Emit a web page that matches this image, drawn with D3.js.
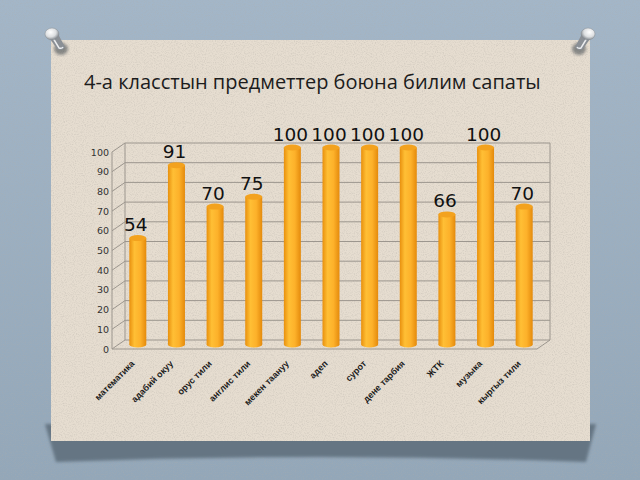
<!DOCTYPE html>
<html>
<head>
<meta charset="utf-8">
<script src="https://cdn.jsdelivr.net/npm/d3@7"></script>
<style>
  html, body { margin: 0; padding: 0; background: #9db1c3; }
  svg { display: block; }
</style>
</head>
<body>
<svg id="chart" width="640" height="480"></svg>
<script>
const subjects = [
  "математика", "адабий окуу", "орус тили", "англис тили", "мекен таануу",
  "адеп", "сурот", "дене тарбия", "ЖТК", "музыка", "кыргыз тили"
];
const quality = [54, 91, 70, 75, 100, 100, 100, 100, 66, 100, 70];
const yTicks = [0, 10, 20, 30, 40, 50, 60, 70, 80, 90, 100];
const title = "4-а класстын предметтер боюна билим сапаты";

const svg = d3.select("#chart");
const defs = svg.append("defs");

// background + paper
const bg = defs.append("linearGradient").attr("id", "bg").attr("x1", 0).attr("y1", 0).attr("x2", 0).attr("y2", 1);
bg.append("stop").attr("offset", "0%").attr("stop-color", "#a3b6c8");
bg.append("stop").attr("offset", "100%").attr("stop-color", "#93a7b9");

const noise = defs.append("filter").attr("id", "noise").attr("x", 0).attr("y", 0).attr("width", "100%").attr("height", "100%");
noise.append("feTurbulence").attr("type", "fractalNoise").attr("baseFrequency", 0.9).attr("numOctaves", 2).attr("seed", 3).attr("result", "t");
noise.append("feColorMatrix").attr("type", "matrix")
  .attr("values", "0 0 0 0 0.45  0 0 0 0 0.42  0 0 0 0 0.38  0 0 0 -2.2 1.25");

const blur = defs.append("filter").attr("id", "blur");
blur.append("feGaussianBlur").attr("stdDeviation", 1.5);

svg.append("rect").attr("width", 640).attr("height", 480).attr("fill", "url(#bg)");
svg.append("rect").attr("width", 640).attr("height", 480).attr("filter", "url(#noise)").attr("opacity", 0.25);

svg.append("path")
  .attr("d", "M45,424 L596,424 L586,462 Q320,452 56,462 Z")
  .attr("fill", "#5d6d7a")
  .attr("opacity", 0.85)
  .attr("filter", "url(#blur)");

const paper = { x: 51, y: 40, w: 539, h: 401 };
svg.append("rect")
  .attr("x", paper.x).attr("y", paper.y).attr("width", paper.w).attr("height", paper.h)
  .attr("fill", "#e6ddd0");
svg.append("rect")
  .attr("x", paper.x).attr("y", paper.y).attr("width", paper.w).attr("height", paper.h)
  .attr("filter", "url(#noise)").attr("opacity", 0.35);

// pins
const pinGrad = defs.append("radialGradient").attr("id", "pin").attr("cx", "40%").attr("cy", "35%").attr("r", "65%");
pinGrad.append("stop").attr("offset", "0%").attr("stop-color", "#ffffff");
pinGrad.append("stop").attr("offset", "60%").attr("stop-color", "#dcdee0");
pinGrad.append("stop").attr("offset", "100%").attr("stop-color", "#80868c");

[{ x: 52, dir: 1 }, { x: 588, dir: -1 }].forEach((p) => {
  const pg = svg.append("g").attr("transform", `translate(${p.x},34) scale(${p.dir},1)`);
  pg.append("ellipse").attr("cx", 9).attr("cy", 15).attr("rx", 7).attr("ry", 6)
    .attr("fill", "#2a343d").attr("opacity", 0.5).attr("filter", "url(#blur)");
  pg.append("path").attr("d", "M-4,2 L5,15 Q10,18 13,13 L5,-2 Z").attr("fill", "#8a8f95");
  pg.append("path").attr("d", "M1,4 L7,14 Q10,15 11,13").attr("fill", "none").attr("stroke", "#eceef0").attr("stroke-width", 1.5);
  pg.append("ellipse").attr("cx", 0).attr("cy", 0).attr("rx", 7).attr("ry", 6)
    .attr("fill", "url(#pin)").attr("stroke", "#8a9096").attr("stroke-width", 0.5);
});

// title
svg.append("text")
  .attr("x", 84).attr("y", 89)
  .attr("font-family", "Open Sans")
  .attr("font-size", 20)
  .attr("fill", "#1c1c1c")
  .text(title);

// chart geometry (pseudo 3D)
const depth = { dx: 13, dy: -9 };
const x = d3.scaleBand().domain(subjects).range([112, 537]).paddingInner(0).paddingOuter(0);
const y = d3.scaleLinear().domain([0, 100]).range([349, 152]);

const grid = svg.append("g").attr("stroke", "#9c968e").attr("stroke-width", 1).attr("fill", "none");
const x0 = x.range()[0], x1 = x.range()[1];

// back wall horizontal lines
grid.selectAll(".hline").data(yTicks).join("line")
  .attr("x1", x0 + depth.dx).attr("x2", x1 + depth.dx)
  .attr("y1", (d) => y(d) + depth.dy).attr("y2", (d) => y(d) + depth.dy);
// side wall diagonals
grid.selectAll(".dline").data(yTicks).join("line")
  .attr("x1", x0).attr("x2", x0 + depth.dx)
  .attr("y1", (d) => y(d)).attr("y2", (d) => y(d) + depth.dy);
// edges
grid.append("line").attr("x1", x0).attr("x2", x0).attr("y1", y(0)).attr("y2", y(100));
grid.append("line").attr("x1", x0 + depth.dx).attr("x2", x0 + depth.dx).attr("y1", y(0) + depth.dy).attr("y2", y(100) + depth.dy);
grid.append("line").attr("x1", x1 + depth.dx).attr("x2", x1 + depth.dx).attr("y1", y(0) + depth.dy).attr("y2", y(100) + depth.dy);
grid.append("line").attr("x1", x0).attr("x2", x1).attr("y1", y(0)).attr("y2", y(0));
grid.append("line").attr("x1", x1).attr("x2", x1 + depth.dx).attr("y1", y(0)).attr("y2", y(0) + depth.dy);

// y axis labels
svg.append("g")
  .attr("transform", `translate(${x0 - 3},0)`)
  .call(d3.axisLeft(y).tickValues(yTicks).tickSize(0).tickPadding(0))
  .call((g) => g.select(".domain").remove())
  .call((g) => g.selectAll("text")
    .attr("font-family", "DejaVu Sans")
    .attr("font-size", 9.5)
    .attr("fill", "#333"));

// cylinders
const cyl = defs.append("linearGradient").attr("id", "cyl").attr("x1", 0).attr("x2", 1).attr("y1", 0).attr("y2", 0);
cyl.append("stop").attr("offset", "0%").attr("stop-color", "#e8900e");
cyl.append("stop").attr("offset", "30%").attr("stop-color", "#ffbf35");
cyl.append("stop").attr("offset", "65%").attr("stop-color", "#fdb12a");
cyl.append("stop").attr("offset", "100%").attr("stop-color", "#e48a0c");

const bw = 17, ry = 3;
const cx = (d) => x(d) + x.bandwidth() / 2 + depth.dx / 2;
const cy = (v) => y(v) + depth.dy / 2;

const bars = svg.append("g").selectAll("g").data(subjects).join("g");
bars.append("ellipse")
  .attr("cx", (d) => cx(d)).attr("cy", cy(0))
  .attr("rx", bw / 2).attr("ry", ry)
  .attr("fill", "url(#cyl)");
bars.append("rect")
  .attr("x", (d) => cx(d) - bw / 2).attr("width", bw)
  .attr("y", (d, i) => cy(quality[i])).attr("height", (d, i) => cy(0) - cy(quality[i]))
  .attr("fill", "url(#cyl)");
bars.append("ellipse")
  .attr("cx", (d) => cx(d)).attr("cy", (d, i) => cy(quality[i]))
  .attr("rx", bw / 2).attr("ry", ry)
  .attr("fill", "#f3a21e");

// value labels
svg.append("g").selectAll("text").data(subjects).join("text")
  .attr("x", (d) => cx(d) - 2)
  .attr("y", (d, i) => cy(quality[i]) - 7)
  .attr("text-anchor", "middle")
  .attr("font-family", "DejaVu Sans")
  .attr("font-size", 18.5)
  .attr("fill", "#111")
  .text((d, i) => quality[i]);

// category labels
svg.append("g").selectAll("text").data(subjects).join("text")
  .attr("transform", (d) => `translate(${cx(d) - 5},${y(0) + 13}) rotate(-45)`)
  .attr("text-anchor", "end")
  .attr("dy", "0.35em")
  .attr("font-family", "Liberation Sans")
  .attr("font-size", 9)
  .attr("font-weight", "bold")
  .attr("fill", "#1a1a1a")
  .text((d) => d);
</script>
</body>
</html>
